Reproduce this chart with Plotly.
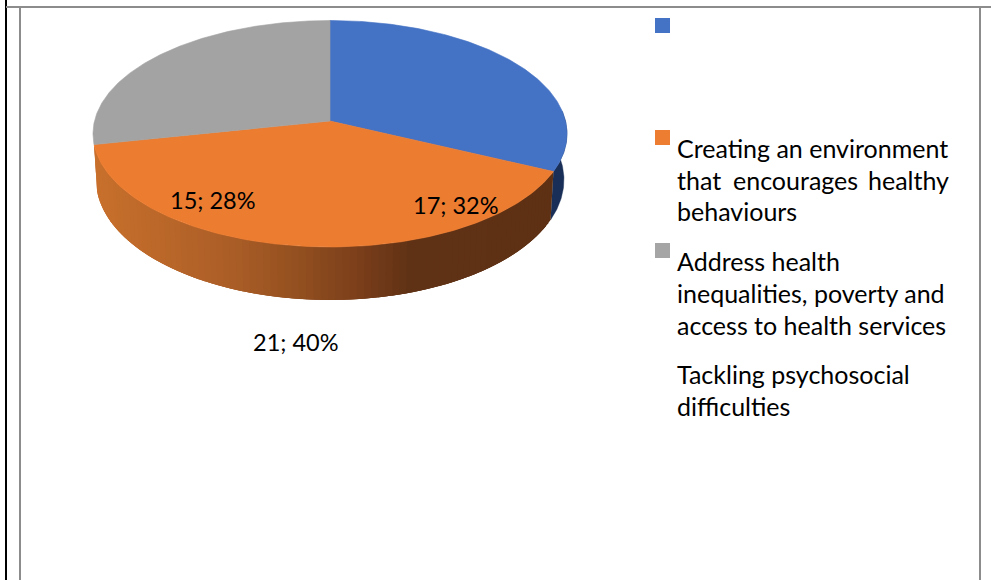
import numpy as np
import plotly.graph_objects as go

# Chart data
slice_names = [
    "Creating an environment that encourages healthy behaviours",
    "Address health inequalities, poverty and access to health services",
    "Tackling psychosocial difficulties",
]
slice_values = [17, 21, 15]
slice_colors = ["#4472C4", "#EC7C30", "#A3A3A3"]
wall_color_blue = "#1A2F57"

# Legend text, placed word group by word group: (text, left edge, line centre)
legend_lines = [
    ("Creating an environment", 675, 147.5),
    ("that", 675, 179.5),
    ("encourages", 731, 179.5),
    ("healthy", 866, 179.5),
    ("behaviours", 675, 210.5),
    ("Address health", 675, 260.5),
    ("inequalities, poverty and", 675, 292.5),
    ("access to health services", 675, 324.5),
    ("Tackling psychosocial", 675, 373.5),
    ("difficulties", 675, 405.5),
]
legend_swatch_y = [25.5, 137.5, 250.5]

# Data label anchor points, same order as the slices
label_x = [456, 296, 213]
label_y = [205, 342, 200]

# Orange side wall shading: x position -> colour
shade_x = [95, 227, 293, 360, 410, 570]
shade_r = [200, 172, 149, 122, 96, 94]
shade_g = [112, 94, 81, 62, 50, 48]
shade_b = [44, 39, 32, 26, 21, 20]

# Perspective model of the disc (top face and bottom face)
CX = 330
TOP = dict(a=235.5, b=111.8, k=0.1126, y0=121)
BOT = dict(a=232.5, b=118.6, k=0.1126, y0=166.3)


def project(theta_deg, face):
    """Map a clockwise angle from 12 o'clock to pixel space on a disc face."""
    t = np.radians(theta_deg)
    u, v = np.sin(t), np.cos(t)
    d = 1 + face["k"] * v
    return CX + face["a"] * u / d, face["y0"] - face["b"] * v / d


total = sum(slice_values)
edges = np.concatenate([[0], np.cumsum(slice_values) / total * 360])

fig = go.Figure()


def add_poly(xs, ys, color, width=0.6):
    fig.add_trace(go.Scatter(
        x=xs, y=ys, mode="lines", fill="toself", fillcolor=color,
        line=dict(color=color, width=width), hoverinfo="skip", showlegend=False,
    ))


def wall_strip(t0, t1, color, samples=8, width=0.0):
    ang = np.linspace(t0, t1, samples)
    tx, ty = project(ang, TOP)
    bx, by = project(ang[::-1], BOT)
    add_poly(np.r_[tx, bx, tx[0]], np.r_[ty, by, ty[0]], color, width)


# Side walls: the dark blue rim on the right, then the shaded orange rim.
# Each orange strip runs under the next one so no seams open between them.
wall_strip(85, edges[1], wall_color_blue, samples=60, width=0.4)
steps = np.linspace(edges[1], edges[2], 91)
for t0, t1 in zip(steps[:-1], steps[1:]):
    mx, _ = project((t0 + t1) / 2, TOP)
    r = np.interp(mx, shade_x, shade_r)
    g = np.interp(mx, shade_x, shade_g)
    b = np.interp(mx, shade_x, shade_b)
    wall_strip(t0, min(t1 + 3.2, edges[2]), f"rgb({r:.0f},{g:.0f},{b:.0f})")

# Top face slices
apex_x, apex_y = project(90, dict(TOP, a=0.0, b=0.0))
for i, color in enumerate(slice_colors):
    ang = np.linspace(edges[i], edges[i + 1], 160)
    ax, ay = project(ang, TOP)
    add_poly(np.r_[apex_x, ax, apex_x], np.r_[apex_y, ay, apex_y], color)

# Legend swatches
fig.add_trace(go.Scatter(
    x=[662.5] * 3, y=legend_swatch_y, mode="markers",
    marker=dict(symbol="square", size=15, color=["#4472C4", "#ED7D31", "#A5A5A5"], line=dict(width=0)),
    hoverinfo="skip", showlegend=False,
))

annotations = []
FONT = "Lato"
for value, x, y in zip(slice_values, label_x, label_y):
    annotations.append(dict(
        x=x, y=y, xref="x", yref="y", showarrow=False, xanchor="center", yanchor="middle",
        text=f"{value}; {round(value / total * 100)}%",
        font=dict(family=FONT, size=23.5, color="#000000"),
    ))
for text, x, y in legend_lines:
    annotations.append(dict(
        x=x, y=y, xref="x", yref="y", showarrow=False, xanchor="left", yanchor="middle",
        text=text, font=dict(family=FONT, size=25, color="#000000"),
    ))

# Surrounding table rules
GREY = "#8C8C8C"
rules = [
    (5, 0, 7, 580, "#000000"),
    (6, 6, 991, 8, GREY),
    (19, 8, 21, 580, GREY),
    (979, 8, 981, 580, GREY),
]
shapes = [
    dict(type="rect", xref="x", yref="y", x0=a, y0=b, x1=c, y1=d, fillcolor=col, line=dict(width=0), layer="above")
    for a, b, c, d, col in rules
]

fig.update_layout(
    width=991, height=580, margin=dict(l=0, r=0, t=0, b=0),
    paper_bgcolor="#FFFFFF", plot_bgcolor="#FFFFFF", showlegend=False,
    xaxis=dict(range=[0, 991], visible=False, fixedrange=True),
    yaxis=dict(range=[580, 0], visible=False, fixedrange=True),
    annotations=annotations, shapes=shapes,
)
fig.write_html("out.html", config=dict(displayModeBar=False))
